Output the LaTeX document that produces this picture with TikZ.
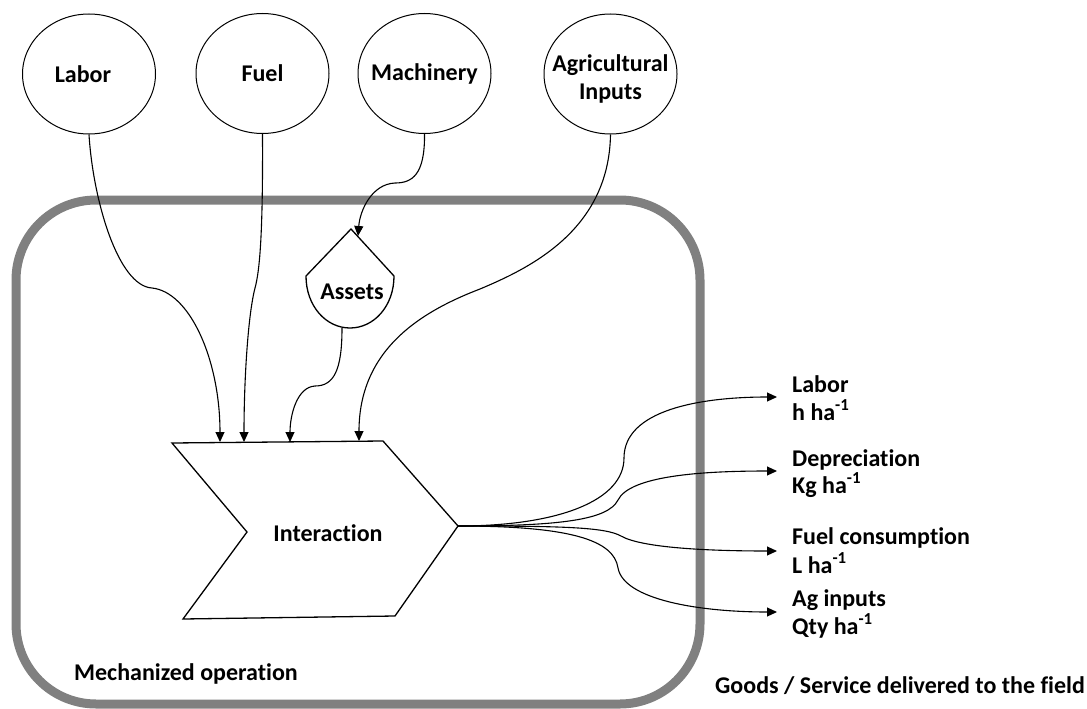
\documentclass[tikz,border=0pt]{standalone}
\usepackage{fontspec}
\setmainfont{Carlito}[Ligatures=NoCommon]
\usetikzlibrary{arrows.meta,shapes.geometric}
\definecolor{boxgray}{RGB}{128,128,128}
\begin{document}
\begin{tikzpicture}[x=1pt,y=-1pt,
  every node/.style={font=\fontsize{24}{28}\selectfont\bfseries},
  circ/.style={draw, ellipse, line width=1pt, minimum width=133pt, minimum height=120pt, inner sep=0pt},
  txt/.style={anchor=base west, inner sep=0pt},
  conn/.style={line width=1.1pt, -{Triangle[length=10pt,width=9pt]}},
  shapeline/.style={line width=1.3pt, line join=miter}
]
\useasboundingbox (0,0) rectangle (1087,709);
% container
\draw[line width=9pt, draw=boxgray, rounded corners=80pt] (16,200) rectangle (700,704);

% input ellipses
\node[circ] (lab) at (89,74) {\makebox[0pt]{\hspace*{-12pt}Labor}};
\node[circ] (fuel) at (262.5,73.5) {\makebox[0pt]{Fuel}};
\node[circ] (mach) at (424.5,73.5) {\makebox[0pt]{Machinery}};
\node[circ] (agri) at (610.5,74) {\makebox[0pt]{\raisebox{-12pt}[0pt][0pt]{\begin{tabular}{@{}c@{}}Agricultural\\Inputs\end{tabular}}}};

% assets
\draw[shapeline] (306,276) -- (351,229) -- (394,276) .. controls (394,306) and (374,328) .. (350,328) .. controls (326,328) and (306,306) .. (306,276) -- cycle;
\node (assets) at (352,292) {Assets};
\coordinate (ain) at (358,236);
\coordinate (aout) at (342,328);

% interaction chevron
\draw[shapeline] (172,443) -- (383,441) -- (458,526) -- (395,616) -- (183,619) -- (247,532) -- cycle;
\node (inter) at (328,533) {Interaction};
\coordinate (i1) at (220,442);
\coordinate (i2) at (244,442);
\coordinate (i3) at (290,442);
\coordinate (i4) at (359,441);
\coordinate (tip) at (458,526);

% inputs
\draw[conn] (lab.south) .. controls (93,200) and (118,286) .. (152,288) .. controls (190,292) and (220,360) .. (i1);
\draw[conn] (fuel.south) .. controls (263,230) and (260,270) .. (255,288) .. controls (248,315) and (244,380) .. (i2);
\draw[conn] (mach.south) .. controls (425,175) and (412,183) .. (395,183) .. controls (372,184) and (360,210) .. (ain);
\draw[conn] (aout) .. controls (342,370) and (334,386) .. (315,386) .. controls (297,387) and (290,415) .. (i3);
\draw[conn] (agri.south) .. controls (609,230) and (530,268) .. (480,289) .. controls (420,312) and (359,350) .. (i4);

% outputs
\coordinate (o1) at (777,397);
\coordinate (o2) at (777,471);
\coordinate (o3) at (777,551);
\coordinate (o4) at (777,612);
\draw[conn] (tip) .. controls (560,526) and (624,500) .. (624,458) .. controls (624,410) and (700,397) .. (o1);
\draw[conn] (tip) .. controls (560,526) and (608,520) .. (618,500) .. controls (630,476) and (700,471) .. (o2);
\draw[conn] (tip) .. controls (560,526) and (605,527) .. (621,536) .. controls (640,547) and (700,551) .. (o3);
\draw[conn] (tip) .. controls (570,526) and (614,540) .. (618,568) .. controls (624,600) and (700,612) .. (o4);

% output labels
\node[txt] (l1a) at (792,392) {Labor};
\node[txt] (l1b) at (792,420) {h ha\textsuperscript{-1}};
\node[txt] (l2a) at (792,466) {Depreciation};
\node[txt] (l2b) at (792,493) {Kg ha\textsuperscript{-1}};
\node[txt] (l3a) at (792,544) {Fuel consumption};
\node[txt] (l3b) at (792,573) {L ha\textsuperscript{-1}};
\node[txt] (l4a) at (792,606) {Ag inputs};
\node[txt] (l4b) at (792,634) {Qty ha\textsuperscript{-1}};

\node[txt] (mech) at (74,680) {Mechanized operation};
\node[txt] (goods) at (715,693) {Goods / Service delivered to the field};
\end{tikzpicture}
\end{document}
